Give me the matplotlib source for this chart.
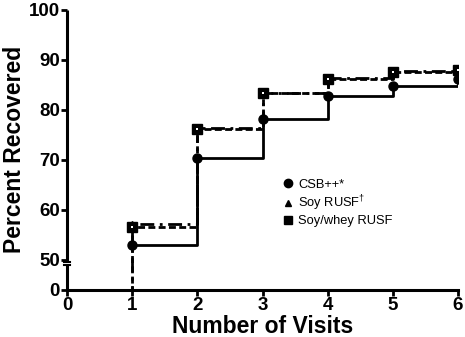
import numpy as np
import matplotlib
matplotlib.use("Agg")
import matplotlib.pyplot as plt
from matplotlib.lines import Line2D

plt.rcParams['font.family'] = ['Liberation Sans', 'DejaVu Sans']
plt.rcParams['mathtext.fontset'] = 'custom'
plt.rcParams['mathtext.rm'] = 'Liberation Sans'

visits = [0, 1, 2, 3, 4, 5, 6]
csb = [0, 53.0, 70.3, 78.2, 82.7, 84.7, 86.1]
soy_rusf = [0, 57.2, 76.3, 83.4, 86.4, 87.8, 88.2]
soy_whey = [0, 56.5, 76.2, 83.3, 86.2, 87.6, 88.0]
series_labels = ['CSB++*', 'Soy RUSF$^{\\dagger}$', 'Soy/whey RUSF']
yticks = [0, 50, 60, 70, 80, 90, 100]

BREAK = 50.0
LOW = 0.12

def fwd(y):
    y = np.asarray(y, dtype=float)
    return np.where(y < BREAK, y * LOW, BREAK * LOW + (y - BREAK))

def inv(u):
    u = np.asarray(u, dtype=float)
    return np.where(u < BREAK * LOW, u / LOW, u - BREAK * LOW + BREAK)

fig = plt.figure(figsize=(4.65, 3.37), dpi=100)
ax = fig.add_axes([67/465, 1-290/337, (458-67)/465, (290-9.5)/337])
ax.set_yscale('function', functions=(fwd, inv))
ax.set_xlim(0, 6)
ax.set_ylim(0, 100)

lw = 2.0
ax.plot(visits, soy_whey, drawstyle='steps-post', color='black', lw=lw,
        linestyle=(0, (2.5, 1.2)), zorder=3)
ax.plot(visits[1:], soy_whey[1:], 's', color='black', ms=6.5, zorder=5)
ax.plot(visits[1:], soy_whey[1:], 's', color='white', ms=1.8, mew=0, zorder=6)
ax.plot(visits, soy_rusf, drawstyle='steps-post', color='black', lw=lw,
        linestyle=(0, (5, 2, 1, 2)), zorder=3)
ax.plot(visits[1:], soy_rusf[1:], '^', color='black', ms=4, zorder=4)
ax.plot(visits[1:], csb[1:], drawstyle='steps-post', color='black', lw=lw,
        linestyle='-', zorder=4)
ax.plot(visits[1:], csb[1:], 'o', color='black', ms=6.5, zorder=5)

ax.set_xticks(range(0, 7))
ax.set_yticks(yticks)
for lab in ax.get_xticklabels() + ax.get_yticklabels():
    lab.set_fontweight('bold')
ax.tick_params(axis='both', labelsize=13.5, width=2, length=4, direction='out', pad=1)

ax.spines['top'].set_visible(False)
ax.spines['right'].set_visible(False)
ax.spines['left'].set_visible(False)
ax.spines['bottom'].set_linewidth(2.2)

tr = ax.get_yaxis_transform()
ax.plot([0, 0], [47.0, 100], color='black', lw=2.2, transform=tr, clip_on=False, solid_capstyle='butt', zorder=10)
ax.plot([0, 0], [0, 42.0], color='black', lw=2.2, transform=tr, clip_on=False, solid_capstyle='butt', zorder=10)
ax.plot([-0.008, 0.008], [47.0, 47.0], color='black', lw=1.5, transform=tr, clip_on=False)
ax.plot([-0.008, 0.008], [42.0, 42.0], color='black', lw=1.5, transform=tr, clip_on=False)

ax.set_xlabel('Number of Visits', fontsize=16.5, fontweight='bold', labelpad=1)
ax.set_ylabel('Percent Recovered', fontsize=16.5, fontweight='bold', labelpad=2)

handles = [Line2D([], [], marker='o', color='black', ls='none', ms=6),
           Line2D([], [], marker='^', color='black', ls='none', ms=4),
           Line2D([], [], marker='s', color='black', ls='none', ms=6)]
ax.legend(handles, series_labels, loc='upper left', bbox_to_anchor=(0.535, 0.42),
          frameon=False, fontsize=9.3, handlelength=0.8, handletextpad=0.4,
          labelspacing=0.2, borderpad=0)

fig.savefig('out.png', dpi=100)
